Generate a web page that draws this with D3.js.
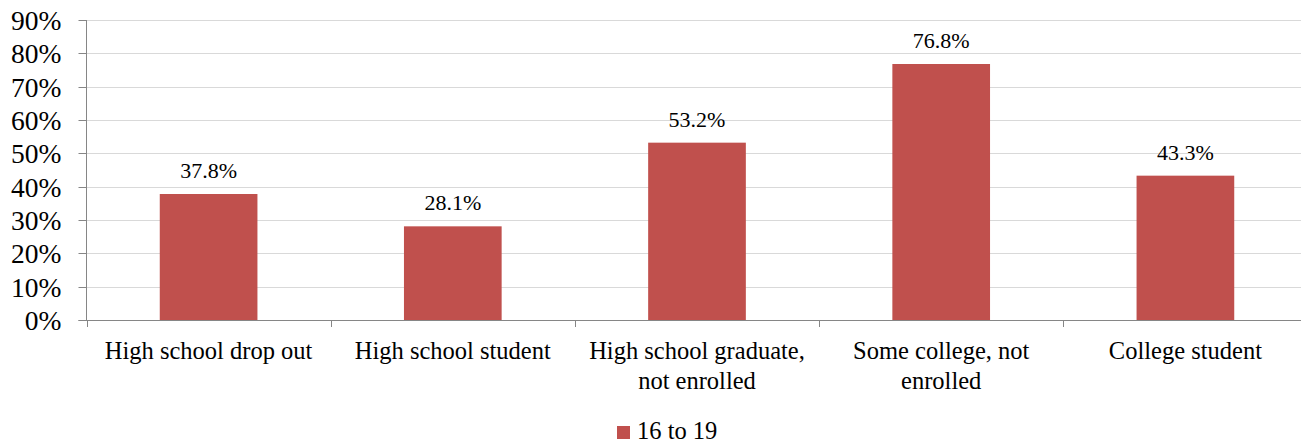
<!DOCTYPE html>
<html><head><meta charset="utf-8">
<script src="https://cdn.jsdelivr.net/npm/d3@7"></script>
<style>body{margin:0;background:#fff;overflow:hidden}svg{display:block}text{font-family:"Liberation Serif","DejaVu Serif",serif;fill:#000}</style>
</head><body><svg id="c" width="1301" height="443"></svg>
<script>
const categories = [["High school drop out"],["High school student"],["High school graduate,","not enrolled"],["Some college, not","enrolled"],["College student"]];
const values = [37.8, 28.1, 53.2, 76.8, 43.3];
const yTicks = [0,10,20,30,40,50,60,70,80,90];
const seriesName = "16 to 19";

const FONT = '"Liberation Serif","DejaVu Serif",serif';
const svg = d3.select("#c");
const mLeft = 86.5, mRight = 1307.5, mTop = 20, mBottom = 320;
const x = d3.scaleBand().domain(d3.range(categories.length)).range([mLeft, mRight]).paddingInner(0).paddingOuter(0);
const y = d3.scaleLinear().domain([0,90]).range([mBottom, mTop]);
const color = "#C0504D";

// gridlines
svg.append("g").selectAll("line").data(yTicks.slice(1)).join("line")
  .attr("x1", mLeft).attr("x2", mRight)
  .attr("y1", d=>Math.round(y(d))+0.5).attr("y2", d=>Math.round(y(d))+0.5)
  .attr("stroke","#d9d9d9").attr("stroke-width",1);

// bars
const bw = x.bandwidth()*0.4;
svg.append("g").selectAll("rect").data(values).join("rect")
  .attr("x",(d,i)=>x(i)+x.bandwidth()/2-bw/2).attr("width",bw)
  .attr("y",d=>y(d)).attr("height",d=>mBottom-y(d)).attr("fill",color);

// y axis
const yAxis = d3.axisLeft(y).tickValues(yTicks).tickFormat(d=>d+"%").tickSize(8).tickPadding(17);
const gy = svg.append("g").attr("transform",`translate(${mLeft},0)`).call(yAxis);
gy.select(".domain").attr("stroke","#868686").attr("d",`M0,${mTop}V${mBottom}`);
gy.selectAll(".tick line").attr("stroke","#868686");
gy.selectAll(".tick text").attr("font-size",27.5).attr("font-family",FONT).attr("fill","#000").attr("dy","0.34em");
gy.selectAll(".tick").attr("transform",d=>`translate(0,${Math.round(y(d))+0.5})`);

// x axis
const xTickPos = d3.range(categories.length).map(i=>x(i));
svg.append("line").attr("x1",mLeft-8).attr("x2",mRight).attr("y1",mBottom+0.5).attr("y2",mBottom+0.5).attr("stroke","#868686");
svg.append("g").selectAll("line").data(xTickPos).join("line")
  .attr("x1",d=>Math.round(d)+0.5).attr("x2",d=>Math.round(d)+0.5).attr("y1",mBottom).attr("y2",mBottom+7).attr("stroke","#868686");

const xl = svg.append("g").selectAll("text").data(categories).join("text")
  .attr("text-anchor","middle").attr("font-size",24.5)
  .attr("transform",(d,i)=>`translate(${x(i)+x.bandwidth()/2},359)`);
xl.selectAll("tspan").data(d=>d).join("tspan").attr("x",0).attr("dy",(d,j)=>j?30:0).text(d=>d);

// data labels
svg.append("g").selectAll("text").data(values).join("text")
  .attr("text-anchor","middle").attr("font-size",22)
  .attr("x",(d,i)=>x(i)+x.bandwidth()/2).attr("y",d=>y(d)-16)
  .text(d=>d.toFixed(1)+"%");

// legend
const lg = svg.append("g").attr("transform","translate(617,426)");
lg.append("rect").attr("width",13).attr("height",13).attr("fill",color);
lg.append("text").attr("x",20).attr("y",13).attr("font-size",24.5).text(seriesName);
</script></body></html>
